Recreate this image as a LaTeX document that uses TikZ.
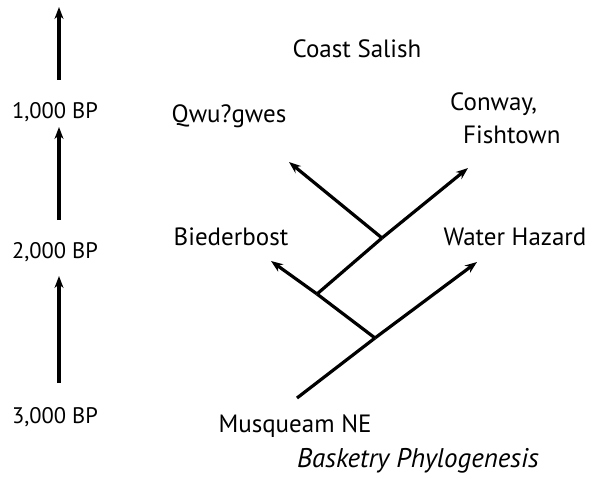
\documentclass[tikz,border=0pt]{standalone}
\usepackage{fontspec}
\setmainfont{PT Sans}
\usetikzlibrary{arrows.meta}
\begin{document}
\begin{tikzpicture}[x=1pt,y=-1pt,
  lbl/.style={inner sep=0pt,anchor=base,font=\fontsize{25}{30}\selectfont},
  tlbl/.style={inner sep=0pt,anchor=base,font=\fontsize{22.5}{27}\selectfont},
  branch/.style={line width=3.2pt},
  leafarrow/.style={line width=3.2pt,-{Stealth[length=12pt,width=9pt]}},
  timeline/.style={line width=3.2pt,-{Stealth[length=12pt,width=9pt]}}]
\useasboundingbox (0,0) rectangle (591,498);

% time scale
\node[tlbl] (t1) at (55,118) {1,000 BP};
\node[tlbl] (t2) at (55,258) {2,000 BP};
\node[tlbl] (t3) at (55,423) {3,000 BP};
\coordinate (a1s) at (59,80);  \coordinate (a1e) at (59,7);
\coordinate (a2s) at (59,220); \coordinate (a2e) at (59,127);
\coordinate (a3s) at (59,383); \coordinate (a3e) at (59,276);
\draw[timeline] (a1s) -- (a1e);
\draw[timeline] (a2s) -- (a2e);
\draw[timeline] (a3s) -- (a3e);

% tree junctions and tips
\coordinate (root) at (297,398);
\coordinate (nA) at (375,338);
\coordinate (nB) at (317,294);
\coordinate (nC) at (382,238);
\coordinate (tWH) at (477,262);
\coordinate (tBi) at (271,261);
\coordinate (tCF) at (468,168);
\coordinate (tQw) at (289,162);

\draw[branch] (root) -- (nA);
\draw[leafarrow] (nA) -- (tWH);
\draw[branch] (nA) -- (nB);
\draw[leafarrow] (nB) -- (tBi);
\draw[branch] (nB) -- (nC);
\draw[leafarrow] (nC) -- (tCF);
\draw[leafarrow] (nC) -- (tQw);

% labels
\node[lbl] (cs) at (357,57) {Coast Salish};
\node[lbl] (qw) at (229,122) {Qwu?gwes};
\node[lbl,anchor=base west] (cf1) at (450,110) {Conway,};
\node[lbl,anchor=base west] (cf2) at (463,143) {Fishtown};
\node[lbl] (bi) at (231,245) {Biederbost};
\node[lbl] (wh) at (515,245) {Water Hazard};
\node[lbl] (mq) at (295,432) {Musqueam NE};
\node[lbl,font=\fontsize{27}{32}\selectfont\itshape] (bp) at (418,467) {Basketry Phylogenesis};
\end{tikzpicture}
\end{document}
